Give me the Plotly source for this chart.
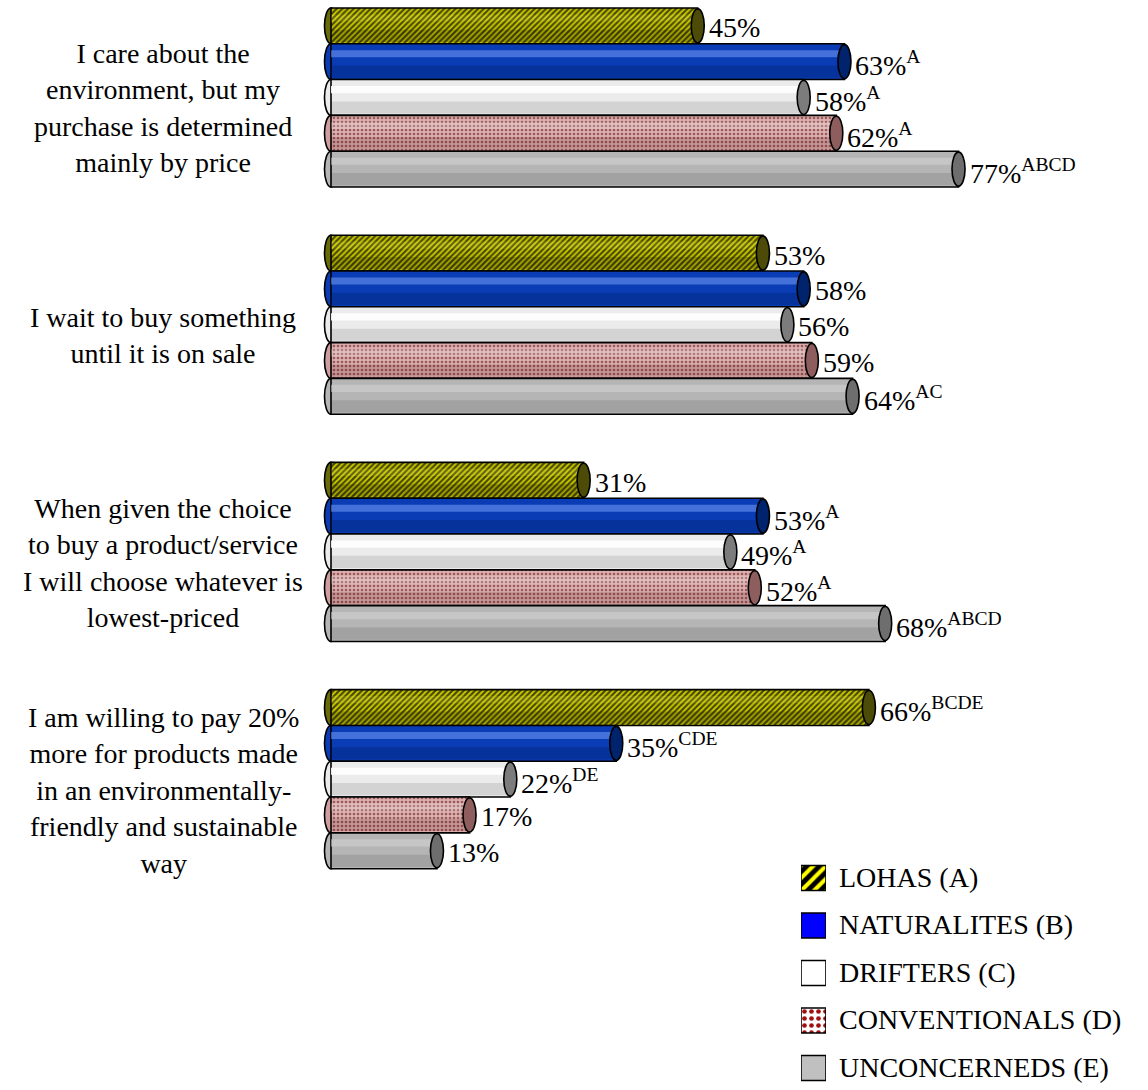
import plotly.graph_objects as go

# ---- data -------------------------------------------------------------
statements = [
    "I care about the<br>environment, but my<br>purchase is determined<br>mainly by price",
    "I wait to buy something<br>until it is on sale",
    "When given the choice<br>to buy a product/service<br>I will choose whatever is<br>lowest-priced",
    "I am willing to pay 20%<br>more for products made<br>in an environmentally-<br>friendly and sustainable<br>way",
]
segments = ["LOHAS (A)", "NATURALITES (B)", "DRIFTERS (C)", "CONVENTIONALS (D)", "UNCONCERNEDS (E)"]

lohas = [45, 53, 31, 66]
naturalites = [63, 58, 53, 35]
drifters = [58, 56, 49, 22]
conventionals = [62, 59, 52, 17]
unconcerneds = [77, 64, 68, 13]

lohas_sig = ["", "", "", "BCDE"]
naturalites_sig = ["A", "", "A", "CDE"]
drifters_sig = ["A", "", "A", "DE"]
conventionals_sig = ["A", "", "A", ""]
unconcerneds_sig = ["ABCD", "AC", "ABCD", ""]

series_values = [lohas, naturalites, drifters, conventionals, unconcerneds]
series_sig = [lohas_sig, naturalites_sig, drifters_sig, conventionals_sig, unconcerneds_sig]

# ---- styling ----------------------------------------------------------
FONT = "Liberation Serif, Times New Roman, serif"
FS = 28
BAR_T = 0.1576          # thickness of one cylinder, in category units
CAP = 0.8               # half-width of the end caps, in percent units

styles = [
    dict(color="#6a6a08", pattern=dict(shape="/", bgcolor="#4a4a00", fgcolor="#d0d000", size=4, solidity=0.45),
         cap="#4c4c08", hi=("#ffff80", 0.15), sh=("#000000", 0.18)),
    dict(color="#0a3db5", pattern=None, cap="#00236e", hi=("#7fa4ff", 0.5), sh=("#001a60", 0.3)),
    dict(color="#ebebeb", pattern=None, cap="#7c7c7c", hi=("#ffffff", 0.9), sh=("#000000", 0.1)),
    dict(color="#cf9e9e", pattern=dict(shape=".", bgcolor="#dcb0b0", fgcolor="#9a5a5a", size=4, solidity=0.35),
         cap="#8e5e5e", hi=("#ffffff", 0.2), sh=("#400000", 0.15)),
    dict(color="#b5b5b5", pattern=None, cap="#6e6e6e", hi=("#d4d4d4", 0.55), sh=("#000000", 0.1)),
]

legend_swatch = [
    dict(color="#000000", pattern=dict(shape="/", bgcolor="#000000", fgcolor="#ffff00", size=9, solidity=0.45)),
    dict(color="#0000ff", pattern=None),
    dict(color="#ffffff", pattern=None),
    dict(color="#ffffff", pattern=dict(shape=".", bgcolor="#ffffff", fgcolor="#a01010", size=7, solidity=0.35)),
    dict(color="#c0c0c0", pattern=None),
]

fig = go.Figure()
shapes = []
annotations = []

cat_idx = list(range(len(statements)))

for j, (vals, sig, st) in enumerate(zip(series_values, series_sig, styles)):
    pos = [i + (j - 2) * BAR_T for i in cat_idx]
    marker = dict(color=st["color"], line=dict(color="#000000", width=1.6))
    if st["pattern"]:
        marker["pattern"] = dict(fillmode="replace", **st["pattern"])
    fig.add_trace(go.Bar(
        x=vals, y=pos, base=0, width=BAR_T, orientation="h", marker=marker,
        name=segments[j], showlegend=False, hoverinfo="skip",
    ))
    # cylinder shading: a highlight band near the top and a shadow band at the bottom
    hi_c, hi_o = st["hi"]
    sh_c, sh_o = st["sh"]
    fig.add_trace(go.Bar(
        x=vals, y=[p - 0.22 * BAR_T for p in pos], base=0, width=0.2 * BAR_T, orientation="h",
        marker=dict(color=hi_c, line=dict(width=0)), opacity=hi_o, showlegend=False, hoverinfo="skip",
    ))
    fig.add_trace(go.Bar(
        x=vals, y=[p + 0.28 * BAR_T for p in pos], base=0, width=0.34 * BAR_T, orientation="h",
        marker=dict(color=sh_c, line=dict(width=0)), opacity=sh_o, showlegend=False, hoverinfo="skip",
    ))
    for v, p, s in zip(vals, pos, sig):
        # rounded left end (under the bar) and dark right end cap (over it)
        shapes.append(dict(type="circle", xref="x", yref="y", layer="below",
                           x0=-CAP, x1=CAP, y0=p - BAR_T / 2, y1=p + BAR_T / 2,
                           fillcolor=st["color"], line=dict(color="#000000", width=1.6)))
        shapes.append(dict(type="circle", xref="x", yref="y", layer="above",
                           x0=v - CAP, x1=v + CAP, y0=p - BAR_T / 2 + 0.004, y1=p + BAR_T / 2 - 0.004,
                           fillcolor=st["cap"], line=dict(color="#000000", width=1.6)))
        label = f"{v}%" + (f"<sup>{s}</sup>" if s else "")
        annotations.append(dict(x=v, y=p, xref="x", yref="y", text=label, showarrow=False,
                                xanchor="left", yanchor="middle", xshift=9, yshift=-2,
                                font=dict(family=FONT, size=FS, color="#000000")))

# statement labels to the left of each group
for i, txt in zip(cat_idx, statements):
    annotations.append(dict(x=-0.1896, y=i, xref="paper", yref="y", text=txt, showarrow=False,
                            xanchor="center", yanchor="middle", align="center", yshift=-11,
                            font=dict(family=FONT, size=FS, color="#000000")))

# legend drawn on its own small axes so the swatches can carry patterns
for k, (name, sw) in enumerate(zip(segments, legend_swatch)):
    marker = dict(color=sw["color"], line=dict(color="#000000", width=1.6))
    if sw["pattern"]:
        marker["pattern"] = dict(fillmode="replace", **sw["pattern"])
    fig.add_trace(go.Bar(x=[1], y=[k], base=0, width=0.526, orientation="h", marker=marker,
                         xaxis="x2", yaxis="y2", showlegend=False, hoverinfo="skip"))
    annotations.append(dict(x=0.6244, y=k, xref="paper", yref="y2", text=name, showarrow=False,
                            xanchor="left", yanchor="middle", yshift=1,
                            font=dict(family=FONT, size=FS, color="#000000")))

fig.update_layout(
    width=1148, height=1090,
    margin=dict(l=320, r=0, t=0, b=0, pad=0),
    paper_bgcolor="#ffffff", plot_bgcolor="#ffffff",
    font=dict(family=FONT, size=FS, color="#000000"),
    barmode="overlay", showlegend=False,
    xaxis=dict(range=[-1.35, 100.25], visible=False, domain=[0, 1]),
    yaxis=dict(range=[4.368, -0.429], visible=False, domain=[0, 1]),
    xaxis2=dict(range=[0, 1], visible=False, domain=[0.5809, 0.6111], anchor="y2"),
    yaxis2=dict(range=[4.463, -0.8], visible=False, domain=[0, 250 / 1090], anchor="x2"),
    shapes=shapes, annotations=annotations,
)

fig.write_html("out.html")
